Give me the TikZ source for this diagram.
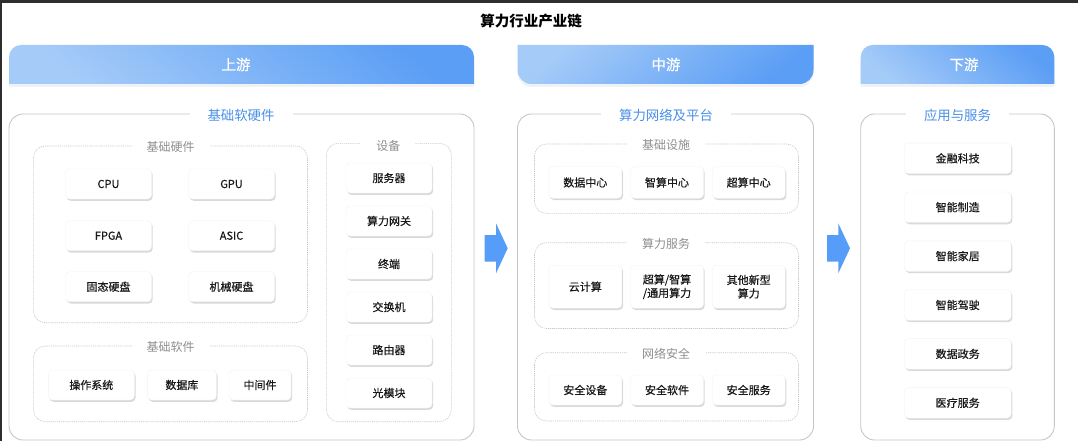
\documentclass[tikz,border=0pt]{standalone}
\usepackage{fontspec}
\setmainfont{Noto Sans CJK SC}
\newfontfamily\medfont{Noto Sans CJK SC}[FakeBold=0.5]
\usetikzlibrary{shadows}
\definecolor{hdrdark}{HTML}{5B9EF5}
\definecolor{hdrlight}{HTML}{A5CBF8}
\definecolor{grptext}{HTML}{4A90E8}
\definecolor{subtext}{HTML}{8F8F8F}
\definecolor{boxline}{HTML}{C6C6C6}
\definecolor{arrowblue}{HTML}{559DF8}
\definecolor{topbar}{HTML}{2E2E2E}
\begin{document}
\begin{tikzpicture}[x=1pt, y=-1pt,
  card/.style={rounded corners=4pt, fill=white, draw=black!5, minimum height=30pt, inner sep=0pt, align=center,
    text=black!90, font=\medfont\fontsize{11}{13.5}\selectfont,
    drop shadow={shadow xshift=1.2pt, shadow yshift=-1.8pt, opacity=.3}},
  outerbox/.style={draw=boxline, line width=0.9pt, rounded corners=14pt},
  subbox/.style={draw=black!22, line width=0.6pt, dash pattern=on 1.2pt off 0.9pt, rounded corners=12pt},
  grplabel/.style={fill=white, text=grptext, inner xsep=18pt, inner ysep=1pt, font=\fontsize{13.4}{15}\selectfont},
  sublabel/.style={fill=white, text=subtext, inner xsep=15pt, inner ysep=1pt, font=\fontsize{12}{14}\selectfont},
  hdrtext/.style={text=white, font=\medfont\fontsize{14.5}{16}\selectfont},
  hdrshadow/.style={drop shadow={shadow xshift=0pt, shadow yshift=-3pt, opacity=.08, fill=hdrdark!60!black}}]
\useasboundingbox (0,0) rectangle (1078,441);
\fill[topbar] (0,0) rectangle (1078,3.5);
\fill[topbar] (0,0) rectangle (2,441);
\node[font=\fontsize{14.5}{17}\selectfont\bfseries] (title) at (531,21) {算力行业产业链};

\shade[hdrshadow, top color=hdrdark, bottom color=hdrlight, shading angle=-40]
  [rounded corners=12pt] (9,45) rectangle (474,84) [sharp corners] (9,64) rectangle (474,84);
\shade[hdrshadow, top color=hdrlight, bottom color=hdrdark, shading angle=40]
  [rounded corners=14pt] (517.5,45) rectangle (813.5,84) [sharp corners] (517.5,45) rectangle (813.5,64);
\shade[hdrshadow, top color=hdrdark, bottom color=hdrlight, shading angle=-40]
  [rounded corners=12pt] (860.7,45) rectangle (1054.3,84) [sharp corners] (860.7,64) rectangle (1054.3,84);
\node[hdrtext] (up) at (236,64.5) {上游};
\node[hdrtext] (mid) at (666,64.5) {中游};
\node[hdrtext] (down) at (964,64.5) {下游};

\draw[outerbox] (9,114) rectangle (474,440);
\draw[outerbox] (517.5,114) rectangle (813.5,440);
\draw[outerbox] (860.7,114) rectangle (1054.3,440);
\draw[subbox] (33.4,146) rectangle (307.5,322.7);
\draw[subbox] (33.4,346) rectangle (307.5,421.7);
\draw[subbox] (326.4,143.3) rectangle (451.4,421.7);
\draw[subbox] (534.5,144) rectangle (798.5,213.3);
\draw[subbox] (534.5,242.7) rectangle (798.5,328.5);
\draw[subbox] (534.5,352.7) rectangle (798.5,421);

\node[grplabel] (hwsw) at (241,115.5) {基础软硬件};
\node[grplabel] (net) at (666,115.5) {算力网络及平台};
\node[grplabel] (apps) at (957.5,115.5) {应用与服务};
\node[sublabel] (hw) at (170.5,146.8) {基础硬件};
\node[sublabel] (sw) at (170.5,346.8) {基础软件};
\node[sublabel] (dev) at (388.4,145.5) {设备};
\node[sublabel] (infra) at (666,145.3) {基础设施};
\node[sublabel] (svc) at (666,243.8) {算力服务};
\node[sublabel] (sec) at (666,353.8) {网络安全};

\foreach \t/\x/\y [count=\i] in {CPU/108.5/184, GPU/231.5/184, FPGA/108.5/235.7, ASIC/231.5/235.7, 固态硬盘/108.5/286.7, 机械硬盘/231.5/286.7}
  \node[card, minimum width=86pt] (hwc\i) at (\x,\y) {\t};
\foreach \t/\x/\w [count=\i] in {操作系统/91.3/86, 数据库/181.9/69, 中间件/260/62}
  \node[card, minimum width=\w pt] (swc\i) at (\x,385) {\t};
\foreach \t [count=\i] in {服务器,算力网关,终端,交换机,路由器,光模块}
  \node[card, minimum width=86pt] (devc\i) at (389,135+43*\i) {\t};

\foreach \t [count=\i] in {数据中心,智算中心,超算中心}
  \node[card, minimum width=73pt, minimum height=31.5pt] (infc\i) at (503.6+81.7*\i,182.5) {\t};
\node[card, minimum width=73pt, minimum height=43pt] (svc1) at (585.3,286.7) {云计算};
\node[card, minimum width=73pt, minimum height=43pt] (svc2) at (667,286.7) {超算/智算\\/通用算力};
\node[card, minimum width=73pt, minimum height=43pt] (svc3) at (748.7,286.7) {其他新型\\算力};
\foreach \t [count=\i] in {安全设备,安全软件,安全服务}
  \node[card, minimum width=73pt] (secc\i) at (503.6+81.7*\i,390) {\t};

\foreach \t [count=\i] in {金融科技,智能制造,智能家居,智能驾驶,数据政务,医疗服务}
  \node[card, minimum width=107pt, minimum height=30.5pt] (appc\i) at (957.7,109.4+48.9*\i) {\t};

\foreach \x in {484.7,827}
  \fill[arrowblue] (\x,235) -- ++(11.3,0) -- ++(0,-11.7) -- ++(11.7,25) -- ++(-11.7,25) -- ++(0,-11.6) -- ++(-11.3,0) -- cycle;
\end{tikzpicture}
\end{document}
